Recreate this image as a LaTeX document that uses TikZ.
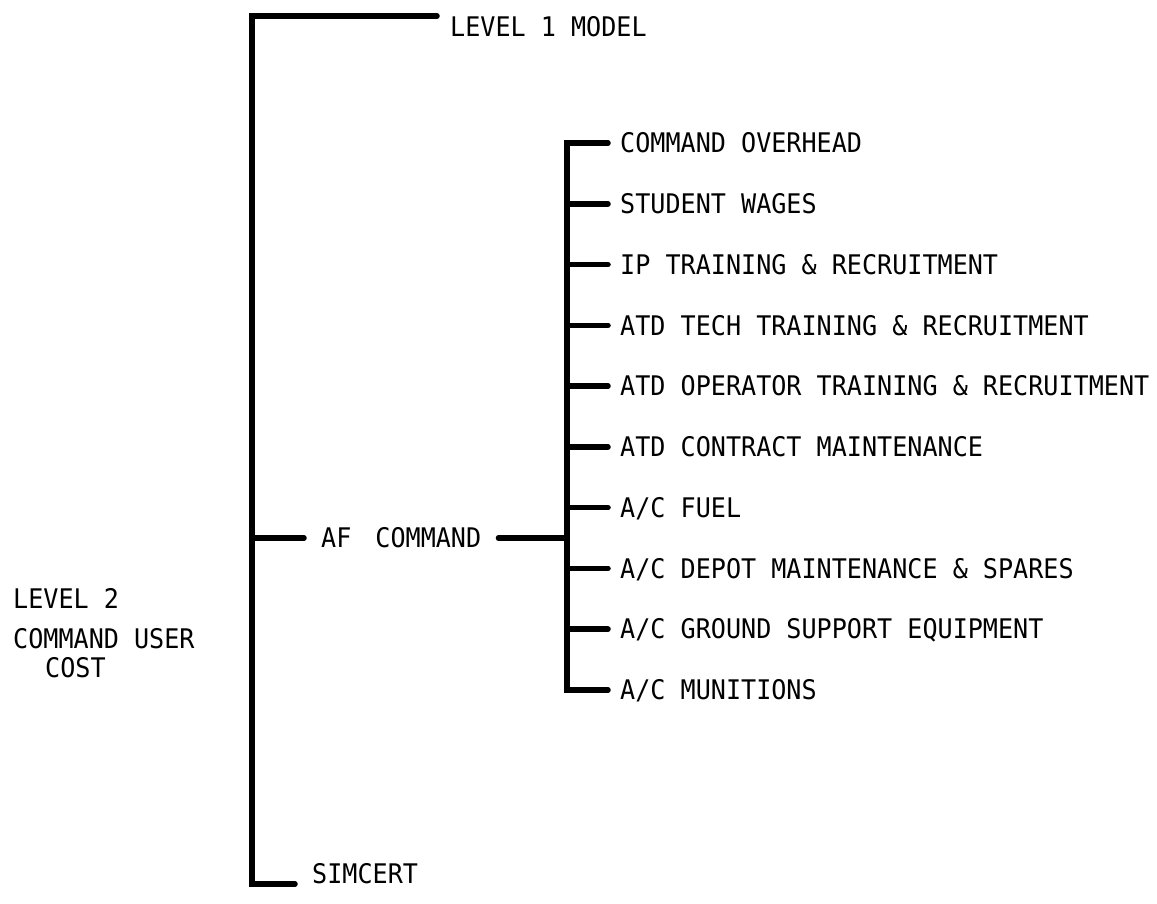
\documentclass[tikz,border=0pt]{standalone}
\usepackage{fontspec}
\newfontfamily\labelfont[FakeStretch=0.93]{DejaVu Sans Mono}
\begin{document}
\begin{tikzpicture}[x=1pt,y=1pt,
  wire/.style={line width=5.5pt, line cap=round, line join=miter},
  lbl/.style={font=\labelfont\fontsize{27}{30}\selectfont, inner sep=0pt,
              text height=19.5pt, text depth=0pt},
  item/.style={lbl, anchor=west, inner xsep=12pt},
]
\useasboundingbox (0,0) rectangle (1157,-903);

% root label
\node[lbl, anchor=base west] (lvl2) at (13,-608) {LEVEL 2};
\node[lbl, anchor=base west] (cmdu) at (13,-648) {COMMAND USER};
\node[lbl, anchor=base west] (cost) at (45,-677) {COST};

% main bus
\coordinate (bustop) at (252,-16);
\coordinate (busbot) at (252,-884);
\node[lbl, anchor=base west, inner xsep=13pt] (lvl1) at (437,-36) {LEVEL 1 MODEL};
\node[lbl, anchor=base west, inner xsep=17pt] (simcert) at (295,-883) {SIMCERT};
\node[lbl, anchor=west, inner xsep=17pt] (af) at (304,-538) {AF\hskip 24pt COMMAND};

\draw[wire] (bustop -| lvl1.west) -- (bustop) -- (busbot) -- (busbot -| simcert.west);
\draw[wire] (af.west -| bustop) -- (af.west);

% command cost elements
\coordinate (cb) at (567,0);
\node[item] (c0) at (608,-143.0) {COMMAND OVERHEAD};
\node[item] (c1) at (608,-203.8) {STUDENT WAGES};
\node[item] (c2) at (608,-264.6) {IP TRAINING \& RECRUITMENT};
\node[item] (c3) at (608,-325.3) {ATD TECH TRAINING \& RECRUITMENT};
\node[item] (c4) at (608,-386.1) {ATD OPERATOR TRAINING \& RECRUITMENT};
\node[item] (c5) at (608,-446.9) {ATD CONTRACT MAINTENANCE};
\node[item] (c6) at (608,-507.7) {A/C FUEL};
\node[item] (c7) at (608,-568.4) {A/C DEPOT MAINTENANCE \& SPARES};
\node[item] (c8) at (608,-629.2) {A/C GROUND SUPPORT EQUIPMENT};
\node[item] (c9) at (608,-690.0) {A/C MUNITIONS};

\draw[wire] (af.east) -- (af.east -| cb);
\draw[wire] (c0.west) -- (c0.west -| cb) -- (c9.west -| cb) -- (c9.west);
\foreach \i in {1,...,8}
  \draw[wire] (c\i.west -| cb) -- (c\i.west);
\end{tikzpicture}
\end{document}
